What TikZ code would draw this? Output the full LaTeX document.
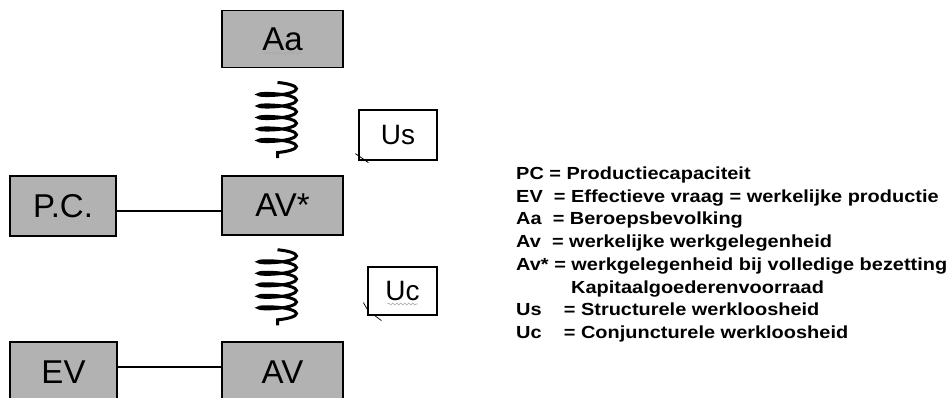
\documentclass[tikz,border=0pt]{standalone}
\usepackage{fontspec}
\setmainfont{Liberation Sans}
\newfontfamily\legendfont{Liberation Sans}[FakeStretch=1.14]
\usetikzlibrary{decorations.pathmorphing}

\tikzset{
	grijsblok/.style={draw, line width=1.5pt, fill=black!30, inner sep=0pt, font=\fontsize{33}{33}\selectfont},
	witblok/.style={draw, line width=1.2pt, fill=white, inner sep=0pt, font=\fontsize{28}{28}\selectfont},
	veer/.style={decorate, decoration={coil, amplitude=19pt, segment length=11.5pt, aspect=0.18}, line width=3pt},
	kringel/.style={decorate, decoration={snake, amplitude=1pt, segment length=4pt}, line width=0.6pt, color=black!35},
	legenda/.style={anchor=base west, inner sep=0pt, font=\legendfont\bfseries\fontsize{17.5}{22.7}\selectfont}
}

\begin{document}
\begin{tikzpicture}[x=1pt, y=-1pt]
			%%%%% START %%%%%
			\useasboundingbox (0, 0) rectangle (952, 398);
			
			\node[grijsblok, minimum width=121, minimum height=57] (Aa) at (282.5, 39.2) {Aa};
			\node[grijsblok, minimum width=121, minimum height=59] (AVs) at (282.5, 205.5) {AV*};
			\node[grijsblok, minimum width=121, minimum height=60] (AV) at (282.5, 372) {AV};
			
			\node[grijsblok, minimum width=106, minimum height=60] (PC) at (63, 206) {P.C.};
			\node[grijsblok, minimum width=107, minimum height=60] (EV) at (63.5, 372) {EV};
			
			\draw[line width=1.2pt] ([yshift=-5pt]PC.east) -- ([yshift=-5pt]PC.east -| AVs.west);
			\draw[line width=1.2pt] ([yshift=5pt]EV.east) -- ([yshift=5pt]EV.east -| AV.west);
			
			% veren
			\draw[veer] ([xshift=-5pt, yshift=-14pt]Aa.south) -- ([xshift=-5pt, yshift=17pt]AVs.north);
			\draw[veer] ([xshift=-5pt, yshift=-14pt]AVs.south) -- ([xshift=-5pt, yshift=16pt]AV.north);
			
			\node[witblok, minimum width=78, minimum height=50] (Us) at (398, 135) {Us};
			\node[witblok, minimum width=69, minimum height=48] (Uc) at (402.5, 291) {Uc};
			
			\draw[line width=0.8pt] ([shift={(-3, -7)}]Us.south west) -- ([shift={(10, 2)}]Us.south west);
			\draw[line width=0.7pt] ([shift={(-4, -13)}]Uc.south west) -- ([shift={(0, -6)}]Uc.south west);
			\draw[line width=0.7pt] ([shift={(6, -1)}]Uc.south west) -- ([shift={(14, 5)}]Uc.south west);
			
			\draw[kringel] ([shift={(-20, 14)}]Aa.center) -- ([shift={(20, 14)}]Aa.center);
			\draw[kringel] ([shift={(-15, 13)}]Uc.center) -- ([shift={(15, 13)}]Uc.center);
			
			% legenda
			\foreach \regel [count=\i] in {
					{PC = Productiecapaciteit},
					{EV~ = Effectieve vraag = werkelijke productie},
					{Aa~ = Beroepsbevolking},
					{Av~ = werkelijke werkgelegenheid},
					{Av* = werkgelegenheid bij volledige bezetting},
					{\hspace*{55pt}Kapitaalgoederenvoorraad},
					{Us~~~ = Structurele werkloosheid},
					{Uc~~~ = Conjuncturele werkloosheid}}
				\node[legenda] (regel\i) at (516, 156.8 + 22.7*\i) {\regel};
			
			%%%%% END %%%%%
\end{tikzpicture}
\end{document}
